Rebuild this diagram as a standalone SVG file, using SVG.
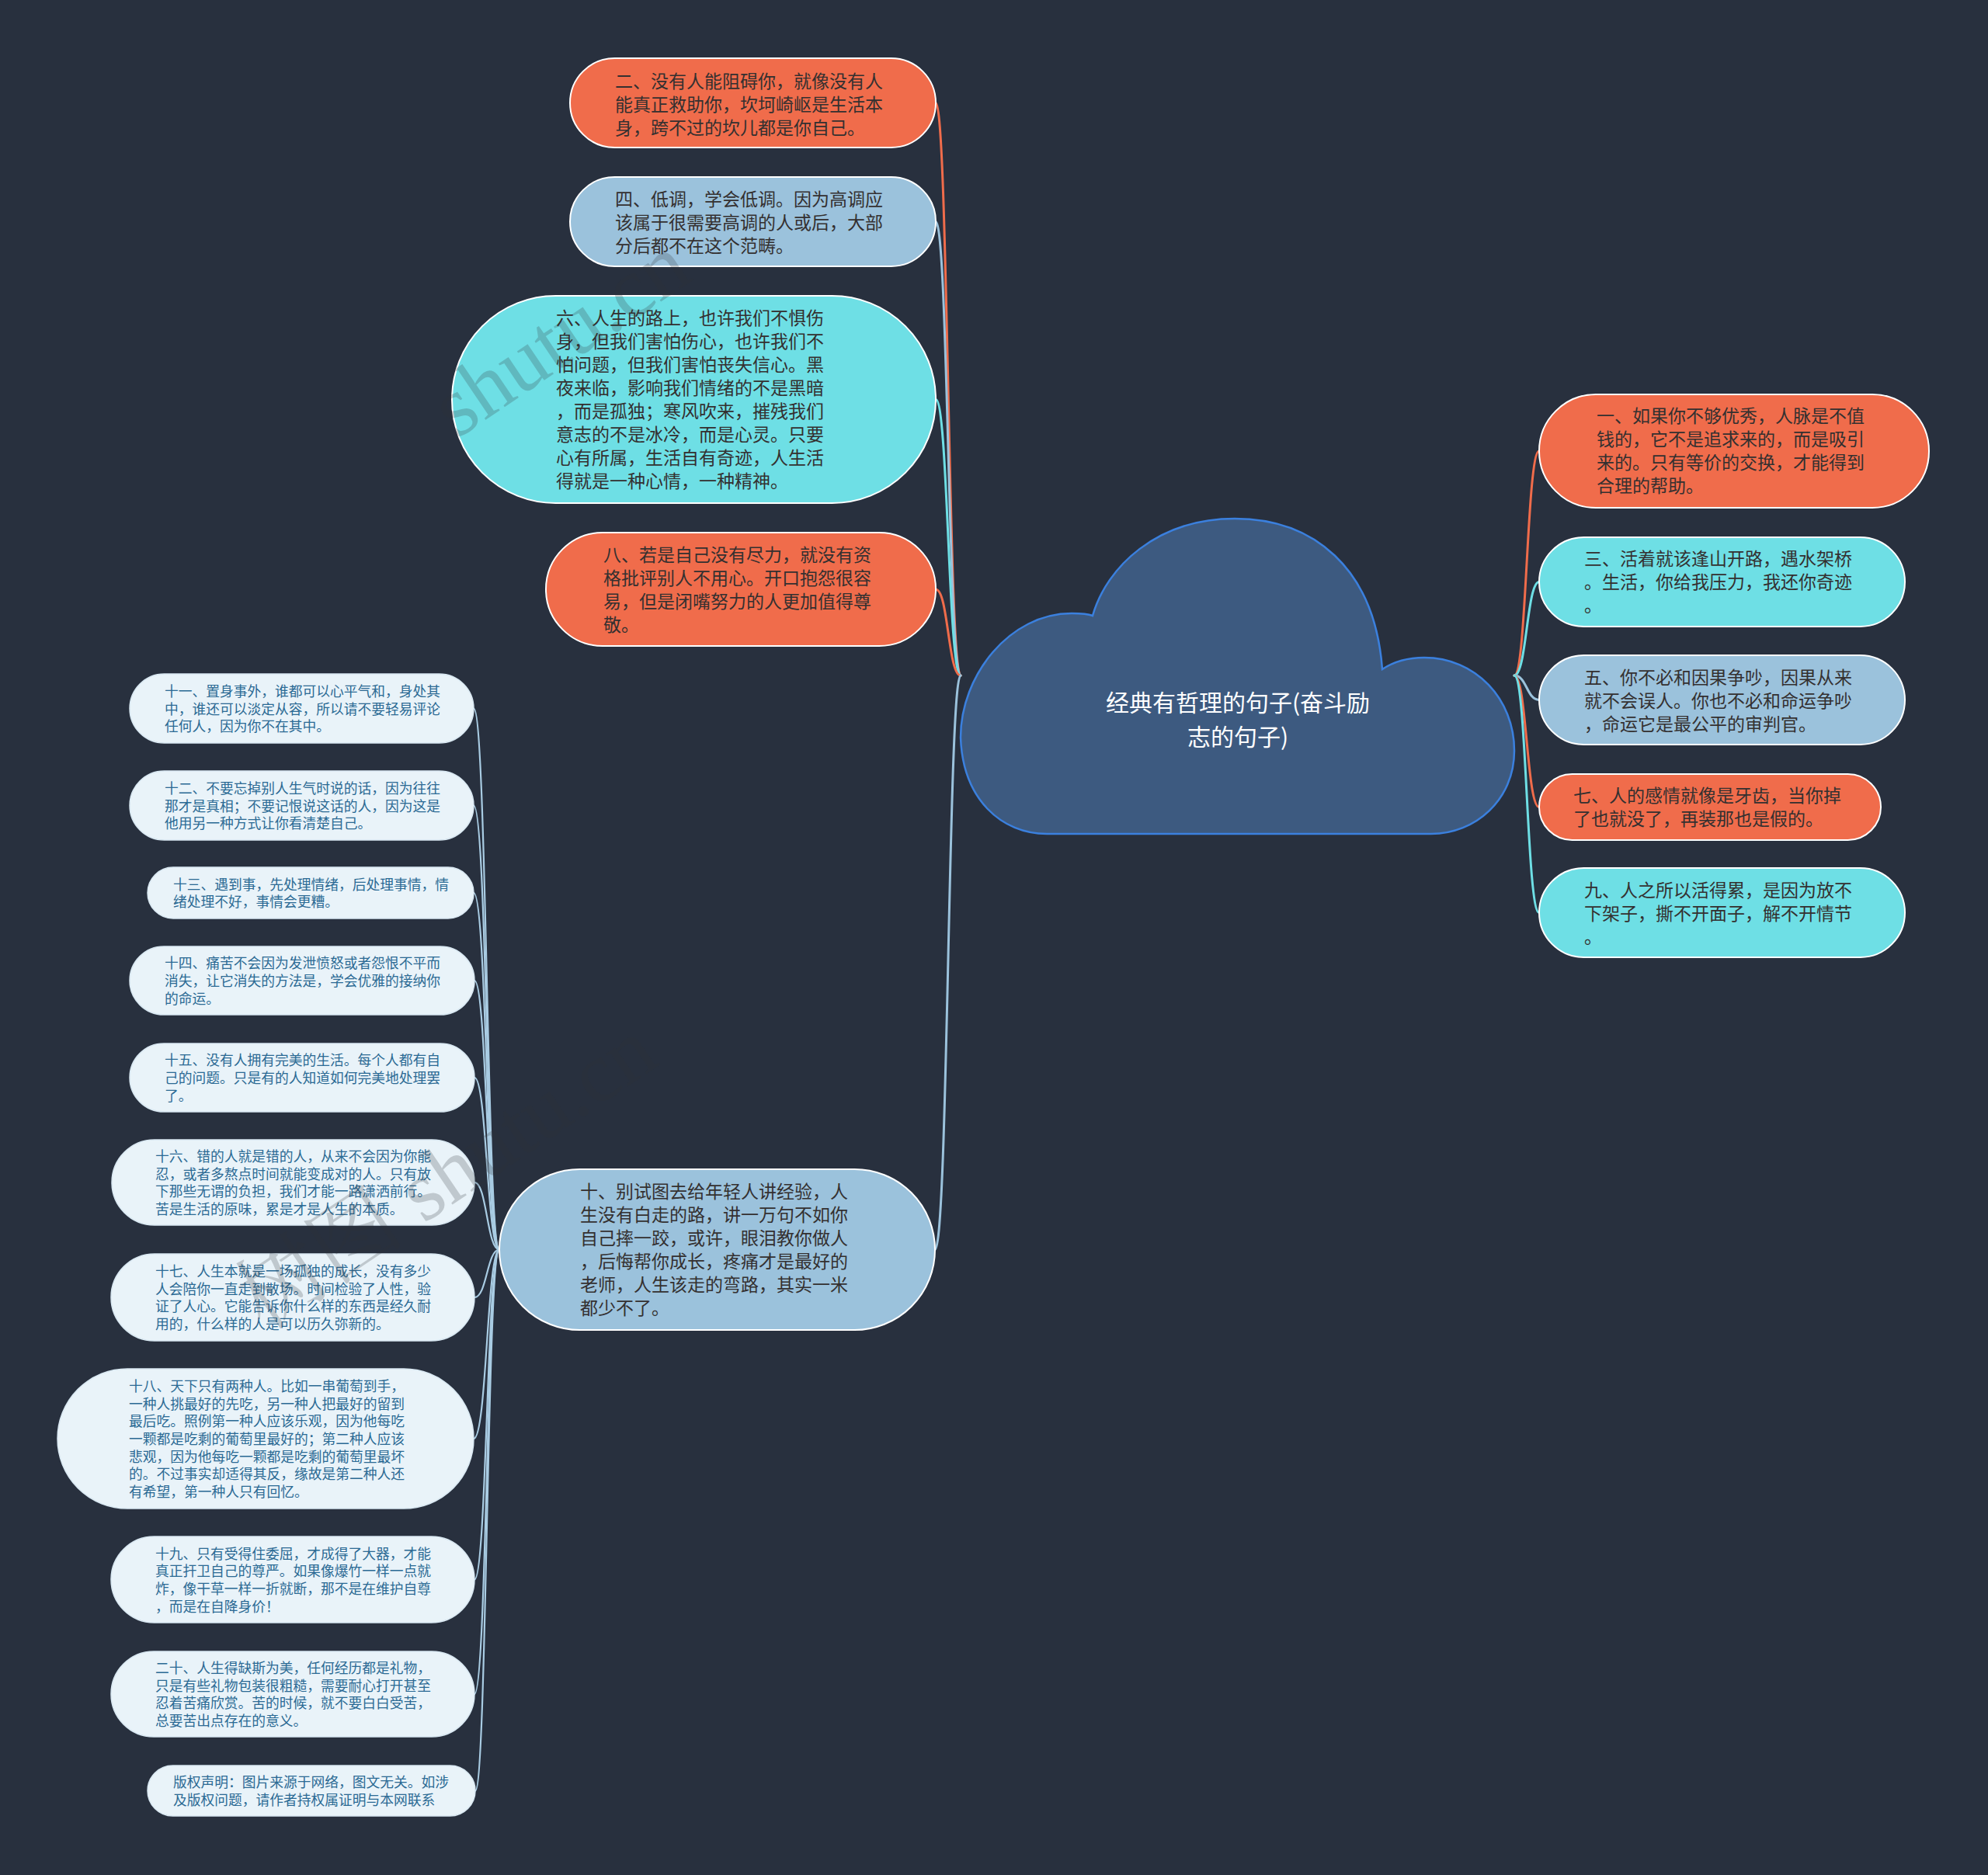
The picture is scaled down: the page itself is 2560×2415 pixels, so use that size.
<svg xmlns="http://www.w3.org/2000/svg" width="2560" height="2415" viewBox="0 0 2560 2415">
<style>
.bg{fill:#28303e}
.n rect{stroke:#ffffff;stroke-width:2}
.or rect{fill:#f06c4b}
.cy rect{fill:#6edfe5}
.bl rect{fill:#9bc2dc}
.sm rect{fill:#e9f3f9;stroke:#d9e8f2;stroke-width:1.5}
.t{font-family:"Noto Sans CJK SC","Noto Sans",sans-serif;font-size:23px;fill:#343030}
.st{font-family:"Noto Sans CJK SC","Noto Sans",sans-serif;font-size:17.75px;fill:#2b6a94}
.ct{font-family:"Noto Sans CJK SC","Noto Sans",sans-serif;font-size:30px;fill:#ffffff}
.wm{font-family:"Liberation Serif","Noto Serif CJK SC","Noto Sans CJK SC",serif;font-size:110px;fill:#303338;opacity:0.22}
.c{fill:none;stroke-width:3;stroke-linecap:round}
.co{stroke:#f06c4b}
.cc{stroke:#6edfe5}
.cb{stroke:#9bc2dc}
.cs{stroke:#a9cce3;stroke-width:2.2}
</style>
<rect class="bg" x="0" y="0" width="2560" height="2415"/>

<g id="connectors">
  <path class="c co" d="M1237 870 C1221 870 1221 132.5 1205 132.5"/>
  <path class="c cb" d="M1237 870 C1221 870 1221 285.5 1205 285.5"/>
  <path class="c cc" d="M1237 870 C1221 870 1221 514.5 1205 514.5"/>
  <path class="c co" d="M1237 870 C1221 870 1221 759 1205 759"/>
  <path class="c cb" d="M1237 870 C1221 870 1221 1609.5 1204 1609.5"/>
  <path class="c co" d="M1950 870 C1966 870 1966 581 1982 581"/>
  <path class="c cc" d="M1950 870 C1966 870 1966 749.5 1982 749.5"/>
  <path class="c cb" d="M1950 870 C1966 870 1966 901.5 1982 901.5"/>
  <path class="c co" d="M1950 870 C1966 870 1966 1039.5 1982 1039.5"/>
  <path class="c cc" d="M1950 870 C1966 870 1966 1175.5 1982 1175.5"/>
  <path class="c cs" d="M643 1609.5 C627 1609.5 627 912.5 610 912.5"/>
  <path class="c cs" d="M643 1609.5 C627 1609.5 627 1037.5 610 1037.5"/>
  <path class="c cs" d="M643 1609.5 C627 1609.5 627 1150 610 1150"/>
  <path class="c cs" d="M643 1609.5 C627 1609.5 627 1263 611 1263"/>
  <path class="c cs" d="M643 1609.5 C627 1609.5 627 1388 611 1388"/>
  <path class="c cs" d="M643 1609.5 C627 1609.5 627 1523 611 1523"/>
  <path class="c cs" d="M643 1609.5 C627 1609.5 627 1671 611 1671"/>
  <path class="c cs" d="M643 1609.5 C627 1609.5 627 1853 610 1853"/>
  <path class="c cs" d="M643 1609.5 C627 1609.5 627 2034.5 611 2034.5"/>
  <path class="c cs" d="M643 1609.5 C627 1609.5 627 2182 611 2182"/>
  <path class="c cs" d="M643 1609.5 C627 1609.5 627 2306.5 612 2306.5"/>
</g>

<g id="root">
  <path d="M1348 1074 C1290 1074 1240 1030 1237 950 C1237 870 1300 790 1380 790 C1392 790 1402 791 1407 793 C1425 730 1490 668 1590 668 C1690 668 1770 730 1780 862 C1795 852 1812 847 1834 847 C1900 847 1950 900 1950 967 C1950 1030 1900 1074 1843 1074 Z" fill="#3d5a80" stroke="#3b80de" stroke-width="2.5"/>
  <text class="ct" text-anchor="middle"><tspan x="1594" y="916">经典有哲理的句子(奋斗励</tspan><tspan x="1594" y="960">志的句子)</tspan></text>
</g>

<g id="n2" class="n or">
  <rect x="734" y="75" width="471" height="115" rx="57.5"/>
  <text class="t"><tspan x="792" y="113">二、没有人能阻碍你，就像没有人</tspan><tspan x="792" y="143">能真正救助你，坎坷崎岖是生活本</tspan><tspan x="792" y="173">身，跨不过的坎儿都是你自己。</tspan></text>
</g>
<g id="n4" class="n bl">
  <rect x="734" y="228" width="471" height="115" rx="57.5"/>
  <text class="t"><tspan x="792" y="265">四、低调，学会低调。因为高调应</tspan><tspan x="792" y="295">该属于很需要高调的人或后，大部</tspan><tspan x="792" y="325">分后都不在这个范畴。</tspan></text>
</g>
<g id="n6" class="n cy">
  <rect x="582" y="381" width="623" height="267" rx="133.5"/>
  <text class="t"><tspan x="716" y="418">六、人生的路上，也许我们不惧伤</tspan><tspan x="716" y="448">身，但我们害怕伤心，也许我们不</tspan><tspan x="716" y="478">怕问题，但我们害怕丧失信心。黑</tspan><tspan x="716" y="508">夜来临，影响我们情绪的不是黑暗</tspan><tspan x="716" y="538">，而是孤独；寒风吹来，摧残我们</tspan><tspan x="716" y="568">意志的不是冰冷，而是心灵。只要</tspan><tspan x="716" y="598">心有所属，生活自有奇迹，人生活</tspan><tspan x="716" y="628">得就是一种心情，一种精神。</tspan></text>
</g>
<g id="n8" class="n or">
  <rect x="703" y="686" width="502" height="146" rx="73"/>
  <text class="t"><tspan x="777" y="723">八、若是自己没有尽力，就没有资</tspan><tspan x="777" y="753">格批评别人不用心。开口抱怨很容</tspan><tspan x="777" y="783">易，但是闭嘴努力的人更加值得尊</tspan><tspan x="777" y="813">敬。</tspan></text>
</g>
<g id="n10" class="n bl">
  <rect x="643" y="1506" width="561" height="207" rx="103.5"/>
  <text class="t"><tspan x="747" y="1543">十、别试图去给年轻人讲经验，人</tspan><tspan x="747" y="1573">生没有白走的路，讲一万句不如你</tspan><tspan x="747" y="1603">自己摔一跤，或许，眼泪教你做人</tspan><tspan x="747" y="1633">，后悔帮你成长，疼痛才是最好的</tspan><tspan x="747" y="1663">老师，人生该走的弯路，其实一米</tspan><tspan x="747" y="1693">都少不了。</tspan></text>
</g>

<g id="n1" class="n or">
  <rect x="1982" y="508" width="502" height="146" rx="73"/>
  <text class="t"><tspan x="2056" y="544">一、如果你不够优秀，人脉是不值</tspan><tspan x="2056" y="574">钱的，它不是追求来的，而是吸引</tspan><tspan x="2056" y="604">来的。只有等价的交换，才能得到</tspan><tspan x="2056" y="634">合理的帮助。</tspan></text>
</g>
<g id="n3" class="n cy">
  <rect x="1982" y="692" width="471" height="115" rx="57.5"/>
  <text class="t"><tspan x="2040" y="728">三、活着就该逢山开路，遇水架桥</tspan><tspan x="2040" y="758">。生活，你给我压力，我还你奇迹</tspan><tspan x="2040" y="788">。</tspan></text>
</g>
<g id="n5" class="n bl">
  <rect x="1982" y="844" width="471" height="115" rx="57.5"/>
  <text class="t"><tspan x="2040" y="881">五、你不必和因果争吵，因果从来</tspan><tspan x="2040" y="911">就不会误人。你也不必和命运争吵</tspan><tspan x="2040" y="941">，命运它是最公平的审判官。</tspan></text>
</g>
<g id="n7" class="n or">
  <rect x="1982" y="997" width="440" height="85" rx="42.5"/>
  <text class="t"><tspan x="2026" y="1033">七、人的感情就像是牙齿，当你掉</tspan><tspan x="2026" y="1063">了也就没了，再装那也是假的。</tspan></text>
</g>
<g id="n9" class="n cy">
  <rect x="1982" y="1118" width="471" height="115" rx="57.5"/>
  <text class="t"><tspan x="2040" y="1155">九、人之所以活得累，是因为放不</tspan><tspan x="2040" y="1185">下架子，撕不开面子，解不开情节</tspan><tspan x="2040" y="1215">。</tspan></text>
</g>

<g id="n11" class="sm">
  <rect x="167" y="868" width="443" height="89" rx="44.5"/>
  <text class="st"><tspan x="212" y="897">十一、置身事外，谁都可以心平气和，身处其</tspan><tspan x="212" y="919.5">中，谁还可以淡定从容，所以请不要轻易评论</tspan><tspan x="212" y="942">任何人，因为你不在其中。</tspan></text>
</g>
<g id="n12" class="sm">
  <rect x="167" y="993" width="443" height="89" rx="44.5"/>
  <text class="st"><tspan x="212" y="1022">十二、不要忘掉别人生气时说的话，因为往往</tspan><tspan x="212" y="1044.5">那才是真相；不要记恨说这话的人，因为这是</tspan><tspan x="212" y="1067">他用另一种方式让你看清楚自己。</tspan></text>
</g>
<g id="n13" class="sm">
  <rect x="190" y="1117" width="420" height="66" rx="33"/>
  <text class="st"><tspan x="223" y="1145.6">十三、遇到事，先处理情绪，后处理事情，情</tspan><tspan x="223" y="1168.4">绪处理不好，事情会更糟。</tspan></text>
</g>
<g id="n14" class="sm">
  <rect x="167" y="1219" width="444" height="88" rx="44"/>
  <text class="st"><tspan x="212" y="1247.3">十四、痛苦不会因为发泄愤怒或者怨恨不平而</tspan><tspan x="212" y="1270">消失，让它消失的方法是，学会优雅的接纳你</tspan><tspan x="212" y="1292.7">的命运。</tspan></text>
</g>
<g id="n15" class="sm">
  <rect x="167" y="1344" width="444" height="88" rx="44"/>
  <text class="st"><tspan x="212" y="1372.3">十五、没有人拥有完美的生活。每个人都有自</tspan><tspan x="212" y="1395">己的问题。只是有的人知道如何完美地处理罢</tspan><tspan x="212" y="1417.7">了。</tspan></text>
</g>
<g id="n16" class="sm">
  <rect x="144" y="1468" width="467" height="110" rx="55"/>
  <text class="st"><tspan x="200" y="1496">十六、错的人就是错的人，从来不会因为你能</tspan><tspan x="200" y="1518.6">忍，或者多熬点时间就能变成对的人。只有放</tspan><tspan x="200" y="1541.4">下那些无谓的负担，我们才能一路潇洒前行。</tspan><tspan x="200" y="1564">苦是生活的原味，累是才是人生的本质。</tspan></text>
</g>
<g id="n17" class="sm">
  <rect x="143" y="1615" width="468" height="112" rx="56"/>
  <text class="st"><tspan x="200" y="1644">十七、人生本就是一场孤独的成长，没有多少</tspan><tspan x="200" y="1666.6">人会陪你一直走到散场。时间检验了人性，验</tspan><tspan x="200" y="1689.4">证了人心。它能告诉你什么样的东西是经久耐</tspan><tspan x="200" y="1712">用的，什么样的人是可以历久弥新的。</tspan></text>
</g>
<g id="n18" class="sm">
  <rect x="74" y="1763" width="536" height="180" rx="90"/>
  <text class="st"><tspan x="166" y="1792">十八、天下只有两种人。比如一串葡萄到手，</tspan><tspan x="166" y="1814.7">一种人挑最好的先吃，另一种人把最好的留到</tspan><tspan x="166" y="1837.4">最后吃。照例第一种人应该乐观，因为他每吃</tspan><tspan x="166" y="1860">一颗都是吃剩的葡萄里最好的；第二种人应该</tspan><tspan x="166" y="1882.7">悲观，因为他每吃一颗都是吃剩的葡萄里最坏</tspan><tspan x="166" y="1905.4">的。不过事实却适得其反，缘故是第二种人还</tspan><tspan x="166" y="1928">有希望，第一种人只有回忆。</tspan></text>
</g>
<g id="n19" class="sm">
  <rect x="143" y="1979" width="468" height="111" rx="55.5"/>
  <text class="st"><tspan x="200" y="2007.5">十九、只有受得住委屈，才成得了大器，才能</tspan><tspan x="200" y="2030.2">真正扞卫自己的尊严。如果像爆竹一样一点就</tspan><tspan x="200" y="2052.8">炸，像干草一样一折就断，那不是在维护自尊</tspan><tspan x="200" y="2075.5">，而是在自降身价！</tspan></text>
</g>
<g id="n20" class="sm">
  <rect x="143" y="2127" width="468" height="110" rx="55"/>
  <text class="st"><tspan x="200" y="2155">二十、人生得缺斯为美，任何经历都是礼物，</tspan><tspan x="200" y="2177.7">只是有些礼物包装很粗糙，需要耐心打开甚至</tspan><tspan x="200" y="2200.3">忍着苦痛欣赏。苦的时候，就不要白白受苦，</tspan><tspan x="200" y="2223">总要苦出点存在的意义。</tspan></text>
</g>
<g id="n21" class="sm">
  <rect x="190" y="2274" width="422" height="65" rx="32.5"/>
  <text class="st"><tspan x="223" y="2302">版权声明：图片来源于网络，图文无关。如涉</tspan><tspan x="223" y="2325">及版权问题，请作者持权属证明与本网联系</tspan></text>
</g>

<g id="watermark">
  <text class="wm" x="588" y="566" transform="rotate(-34 588 566)">shutu.cn</text>
  <text class="wm" x="340" y="1715" transform="rotate(-34 340 1715)">树图 shutu.cn</text>
</g>
</svg>
